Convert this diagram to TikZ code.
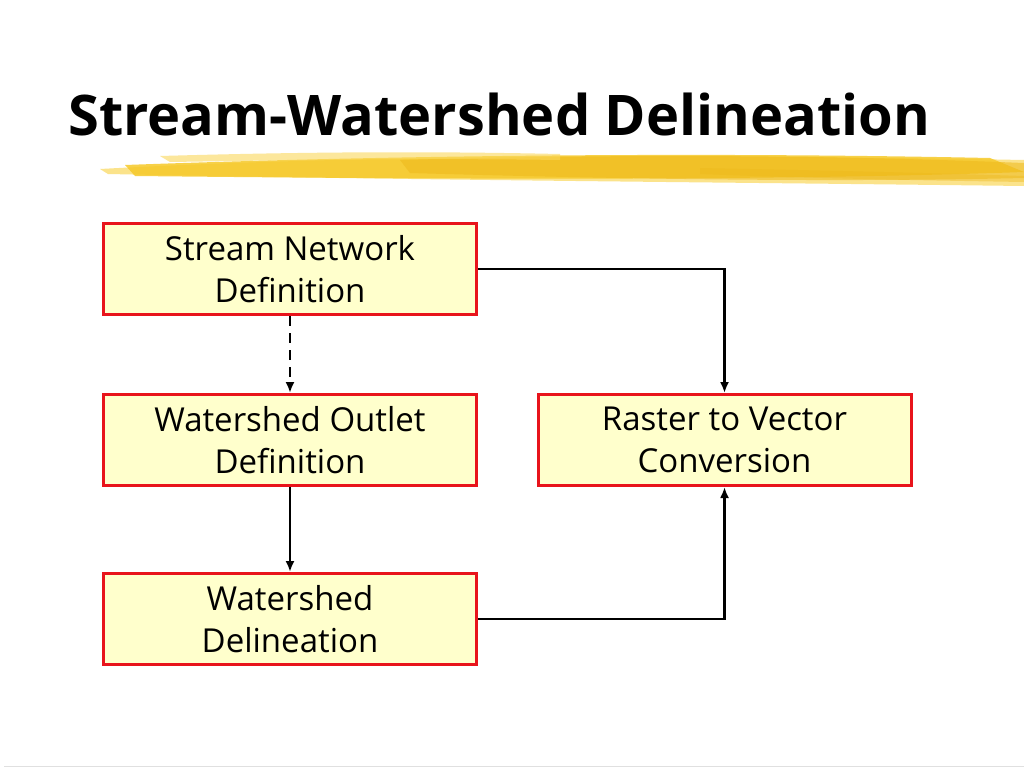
\documentclass[tikz,border=0pt]{standalone}
\usepackage{fontspec}
\setmainfont{Open Sans}
\usetikzlibrary{arrows.meta}
\definecolor{boxred}{HTML}{E8141B}
\definecolor{boxfill}{HTML}{FFFFCC}
\definecolor{brushA}{HTML}{F6C929}
\definecolor{brushB}{HTML}{FAD85A}
\definecolor{brushC}{HTML}{EDB81A}
\begin{document}
\begin{tikzpicture}[x=1pt,y=-1pt,
  stepbox/.style={draw=boxred,line width=3pt,fill=boxfill,minimum width=373pt,minimum height=91pt,
    inner sep=0pt,align=center,font=\fontsize{33}{42}\selectfont},
  conn/.style={line width=2.4pt,-{Latex[length=11pt,width=9pt]}},
]
\useasboundingbox (0,0) rectangle (1024,768);
\fill[white] (0,0) rectangle (1024,768);
% title
\node[anchor=base west,inner sep=0pt,font=\fontsize{56}{60}\bfseries\selectfont] (title) at (68,135) {Stream-Watershed Delineation};
% brush stroke
\fill[brushB,opacity=0.7] (100,169) .. controls (300,158) and (600,152) .. (1024,160) -- (1024,186) .. controls (700,182) and (400,180) .. (108,174) -- cycle;
\fill[brushA,opacity=0.85] (125,165) .. controls (400,155) and (700,152) .. (990,158) -- (1024,172) .. controls (800,180) and (500,180) .. (135,176) -- cycle;
\fill[brushC,opacity=0.55] (400,160) .. controls (650,153) and (850,156) .. (1024,163) -- (1024,178) .. controls (850,182) and (650,180) .. (410,173) -- cycle;
\fill[brushB,opacity=0.6] (160,156) .. controls (300,152) and (420,151) .. (560,154) -- (560,160) .. controls (420,158) and (300,160) .. (170,162) -- cycle;
\fill[brushC,opacity=0.4] (700,168) .. controls (800,170) and (900,172) .. (1024,176) -- (1024,182) .. controls (900,180) and (800,178) .. (700,174) -- cycle;
% boxes
\node[stepbox] (a) at (290,269) {Stream Network\\Definition};
\node[stepbox] (b) at (290,440) {Watershed Outlet\\Definition};
\node[stepbox] (c) at (290,619) {Watershed\\Delineation};
\node[stepbox] (d) at (724.5,440) {Raster to Vector\\Conversion};
% connectors
\draw[conn,dash pattern=on 10pt off 7pt] (a.south) -- (b.north);
\draw[conn] (b.south) -- (c.north);
\draw[conn] (a.east) -| (d.north);
\draw[conn] (c.east) -| (d.south);
% bottom rule
\coordinate (l1) at (4,766);
\coordinate (l2) at (1024,766);
\draw[black!12,line width=1pt] (l1) -- (l2);
\end{tikzpicture}
\end{document}
